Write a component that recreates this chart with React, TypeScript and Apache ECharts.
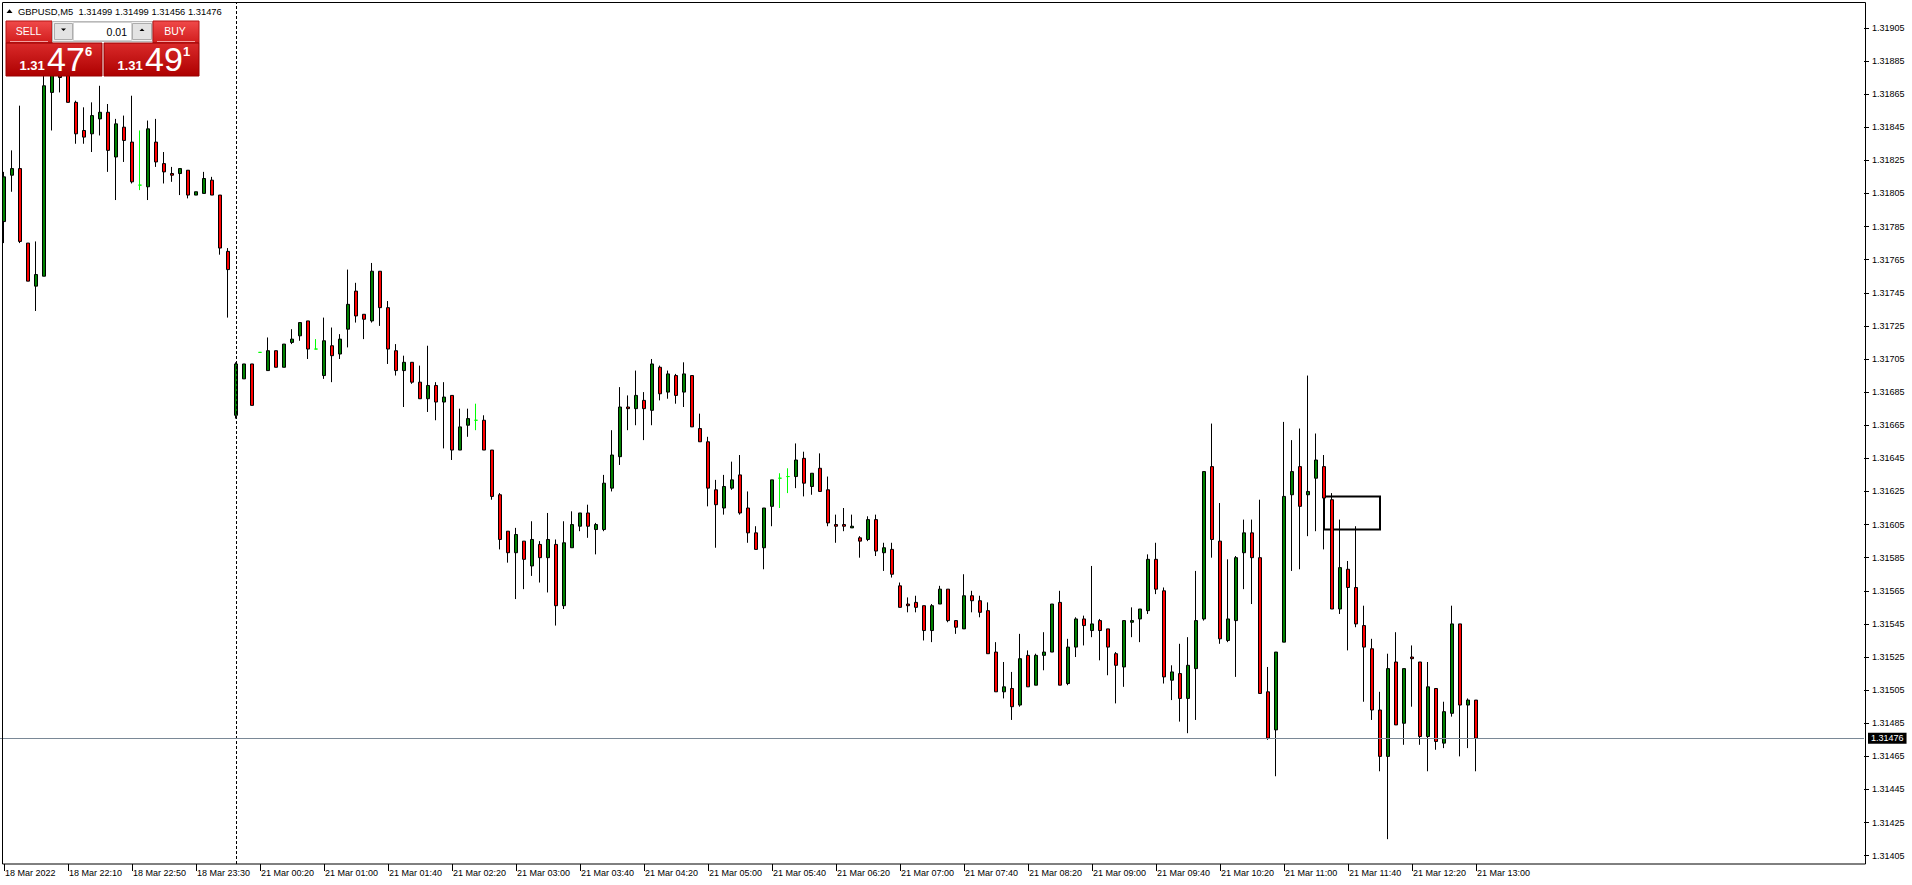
import React, { useEffect, useRef } from 'react';
import * as echarts from 'echarts';

// ---- Data (GBPUSD, M5) ----
const opens = [
  1.31788, 1.31816, 1.31820, 1.31775, 1.31749, 1.31755, 1.31866, 1.31876, 1.31880, 1.31860,
  1.31843, 1.31841, 1.31850, 1.31854, 1.31827, 1.31845, 1.31836, 1.31810, 1.31809, 1.31836,
  1.31823, 1.31817, 1.31817, 1.31819, 1.31804, 1.31805, 1.31813, 1.31804, 1.31770,
  1.31671, 1.31693, 1.31702, 1.31709, 1.31698, 1.31710, 1.31700, 1.31715, 1.31719, 1.31728, 1.31711,
  1.31695, 1.31713, 1.31708, 1.31723, 1.31746, 1.31732, 1.31728, 1.31758, 1.31736, 1.31710,
  1.31698, 1.31703, 1.31691, 1.31681, 1.31689, 1.31679, 1.31683, 1.31650, 1.31665, 1.31668,
  1.31668, 1.31650, 1.31623, 1.31601, 1.31588, 1.31595, 1.31580, 1.31593, 1.31585, 1.31593,
  1.31556, 1.31591, 1.31604, 1.31612, 1.31602, 1.31602, 1.31627, 1.31646, 1.31676, 1.31675,
  1.31680, 1.31674, 1.31700, 1.31685, 1.31695, 1.31685, 1.31695, 1.31663, 1.31655, 1.31626,
  1.31615, 1.31627, 1.31635, 1.31615, 1.31600, 1.31591, 1.31616, 1.31633, 1.31634, 1.31634,
  1.31645, 1.31628, 1.31639, 1.31626, 1.31605, 1.31605, 1.31603, 1.31597, 1.31596, 1.31608,
  1.31588, 1.31590, 1.31568, 1.31557, 1.31558, 1.31556, 1.31541, 1.31557, 1.31566, 1.31547,
  1.31542, 1.31562, 1.31559, 1.31553, 1.31528, 1.31504, 1.31506, 1.31496, 1.31526, 1.31508,
  1.31526, 1.31528, 1.31558, 1.31509, 1.31531, 1.31548, 1.31541, 1.31547, 1.31542, 1.31527,
  1.31519, 1.31546, 1.31548, 1.31553, 1.31584, 1.31565, 1.31511, 1.31515, 1.31500, 1.31518,
  1.31548, 1.31640, 1.31595, 1.31535, 1.31547, 1.31588, 1.31600, 1.31585, 1.31504, 1.31481,
  1.31534, 1.31623, 1.31640, 1.31623, 1.31633, 1.31640, 1.31620, 1.31554, 1.31578, 1.31567,
  1.31544, 1.31530, 1.31493, 1.31465, 1.31522, 1.31485, 1.31525, 1.31522, 1.31477, 1.31506,
  1.31473, 1.31491, 1.31545, 1.31496, 1.31499,
];
const highs = [
  1.31818, 1.31831, 1.31858, 1.31775, 1.31776, 1.31880, 1.31885, 1.31880, 1.31885, 1.31861,
  1.31857, 1.31860, 1.31870, 1.31859, 1.31850, 1.31852, 1.31864, 1.31843, 1.31849, 1.31850,
  1.31830, 1.31821, 1.31820, 1.31819, 1.31806, 1.31818, 1.31815, 1.31804, 1.31772,
  1.31703, 1.31702, 1.31702, 1.31709, 1.31718, 1.31710, 1.31714, 1.31723, 1.31727, 1.31728, 1.31717,
  1.31730, 1.31724, 1.31720, 1.31759, 1.31751, 1.31732, 1.31763, 1.31758, 1.31740, 1.31714,
  1.31707, 1.31703, 1.31701, 1.31713, 1.31691, 1.31691, 1.31683, 1.31675, 1.31675, 1.31678,
  1.31671, 1.31650, 1.31624, 1.31601, 1.31603, 1.31595, 1.31607, 1.31595, 1.31612, 1.31596,
  1.31607, 1.31613, 1.31612, 1.31617, 1.31606, 1.31635, 1.31662, 1.31688, 1.31683, 1.31698,
  1.31685, 1.31705, 1.31701, 1.31698, 1.31696, 1.31703, 1.31695, 1.31672, 1.31658, 1.31632,
  1.31635, 1.31643, 1.31647, 1.31625, 1.31604, 1.31615, 1.31632, 1.31636, 1.31639, 1.31654,
  1.31649, 1.31636, 1.31648, 1.31634, 1.31611, 1.31615, 1.31611, 1.31598, 1.31610, 1.31611,
  1.31594, 1.31594, 1.31570, 1.31561, 1.31562, 1.31556, 1.31557, 1.31568, 1.31566, 1.31547,
  1.31575, 1.31565, 1.31562, 1.31558, 1.31534, 1.31522, 1.31516, 1.31539, 1.31529, 1.31527,
  1.31540, 1.31557, 1.31565, 1.31536, 1.31549, 1.31550, 1.31580, 1.31548, 1.31542, 1.31528,
  1.31547, 1.31555, 1.31554, 1.31587, 1.31594, 1.31567, 1.31520, 1.31533, 1.31537, 1.31577,
  1.31637, 1.31666, 1.31618, 1.31584, 1.31586, 1.31608, 1.31608, 1.31620, 1.31519, 1.31528,
  1.31667, 1.31656, 1.31663, 1.31695, 1.31660, 1.31647, 1.31624, 1.31608, 1.31583, 1.31604,
  1.31556, 1.31536, 1.31504, 1.31527, 1.31540, 1.31518, 1.31532, 1.31522, 1.31522, 1.31506,
  1.31498, 1.31556, 1.31545, 1.31500, 1.31499,
];
const lows = [
  1.31775, 1.31806, 1.31775, 1.31752, 1.31734, 1.31755, 1.31843, 1.31866, 1.31860, 1.31835,
  1.31835, 1.31830, 1.31840, 1.31818, 1.31801, 1.31824, 1.31811, 1.31807, 1.31801, 1.31821,
  1.31811, 1.31812, 1.31804, 1.31802, 1.31804, 1.31805, 1.31804, 1.31768, 1.31730,
  1.31669, 1.31693, 1.31677, 1.31709, 1.31698, 1.31700, 1.31700, 1.31714, 1.31716, 1.31705, 1.31711,
  1.31693, 1.31691, 1.31705, 1.31712, 1.31727, 1.31717, 1.31727, 1.31725, 1.31702, 1.31695,
  1.31676, 1.31690, 1.31681, 1.31673, 1.31668, 1.31651, 1.31644, 1.31650, 1.31658, 1.31662,
  1.31650, 1.31620, 1.31590, 1.31582, 1.31560, 1.31566, 1.31574, 1.31570, 1.31564, 1.31544,
  1.31554, 1.31591, 1.31601, 1.31597, 1.31587, 1.31601, 1.31625, 1.31641, 1.31662, 1.31665,
  1.31656, 1.31665, 1.31680, 1.31681, 1.31678, 1.31676, 1.31664, 1.31655, 1.31616, 1.31591,
  1.31611, 1.31626, 1.31611, 1.31594, 1.31590, 1.31578, 1.31604, 1.31615, 1.31624, 1.31627,
  1.31622, 1.31623, 1.31625, 1.31604, 1.31594, 1.31601, 1.31603, 1.31585, 1.31595, 1.31586,
  1.31577, 1.31573, 1.31555, 1.31552, 1.31552, 1.31535, 1.31534, 1.31557, 1.31546, 1.31539,
  1.31542, 1.31552, 1.31549, 1.31527, 1.31504, 1.31500, 1.31487, 1.31495, 1.31507, 1.31508,
  1.31517, 1.31528, 1.31508, 1.31508, 1.31525, 1.31532, 1.31537, 1.31523, 1.31514, 1.31497,
  1.31507, 1.31537, 1.31534, 1.31551, 1.31563, 1.31509, 1.31499, 1.31486, 1.31479, 1.31487,
  1.31547, 1.31585, 1.31533, 1.31534, 1.31513, 1.31566, 1.31557, 1.31503, 1.31475, 1.31453,
  1.31534, 1.31577, 1.31578, 1.31598, 1.31601, 1.31590, 1.31554, 1.31551, 1.31529, 1.31543,
  1.31498, 1.31487, 1.31456, 1.31415, 1.31484, 1.31472, 1.31495, 1.31472, 1.31456, 1.31469,
  1.31470, 1.31489, 1.31465, 1.31470, 1.31456,
];
const closes = [
  1.31815, 1.31820, 1.31776, 1.31752, 1.31756, 1.31870, 1.31878, 1.31875, 1.31860, 1.31841,
  1.31839, 1.31852, 1.31854, 1.31831, 1.31847, 1.31837, 1.31812, 1.31810, 1.31844, 1.31824,
  1.31818, 1.31816, 1.31820, 1.31804, 1.31806, 1.31814, 1.31804, 1.31772, 1.31759,
  1.31702, 1.31702, 1.31677, 1.31709, 1.31710, 1.31700, 1.31714, 1.31717, 1.31727, 1.31711, 1.31711,
  1.31716, 1.31707, 1.31717, 1.31738, 1.31731, 1.31729, 1.31758, 1.31736, 1.31711, 1.31698,
  1.31703, 1.31691, 1.31681, 1.31689, 1.31679, 1.31682, 1.31650, 1.31664, 1.31669, 1.31668,
  1.31650, 1.31622, 1.31596, 1.31588, 1.31599, 1.31584, 1.31596, 1.31585, 1.31596, 1.31556,
  1.31594, 1.31605, 1.31612, 1.31604, 1.31605, 1.31630, 1.31647, 1.31676, 1.31675, 1.31683,
  1.31675, 1.31702, 1.31684, 1.31696, 1.31683, 1.31696, 1.31664, 1.31655, 1.31627, 1.31617,
  1.31628, 1.31632, 1.31612, 1.31600, 1.31590, 1.31615, 1.31632, 1.31633, 1.31634, 1.31644,
  1.31630, 1.31636, 1.31625, 1.31606, 1.31604, 1.31604, 1.31604, 1.31595, 1.31608, 1.31589,
  1.31591, 1.31575, 1.31555, 1.31556, 1.31555, 1.31541, 1.31556, 1.31566, 1.31547, 1.31543,
  1.31562, 1.31559, 1.31552, 1.31527, 1.31504, 1.31507, 1.31495, 1.31524, 1.31507, 1.31526,
  1.31528, 1.31557, 1.31508, 1.31531, 1.31548, 1.31544, 1.31545, 1.31541, 1.31531, 1.31520,
  1.31547, 1.31547, 1.31554, 1.31584, 1.31566, 1.31513, 1.31516, 1.31500, 1.31520, 1.31547,
  1.31637, 1.31596, 1.31536, 1.31548, 1.31585, 1.31600, 1.31585, 1.31503, 1.31476, 1.31528,
  1.31622, 1.31637, 1.31616, 1.31625, 1.31644, 1.31621, 1.31554, 1.31579, 1.31567, 1.31545,
  1.31531, 1.31493, 1.31465, 1.31518, 1.31484, 1.31518, 1.31524, 1.31477, 1.31507, 1.31474,
  1.31492, 1.31545, 1.31496, 1.31499, 1.31476,
];

const timeLabels = [
  '18 Mar 2022', '18 Mar 22:10', '18 Mar 22:50', '18 Mar 23:30', '21 Mar 00:20', '21 Mar 01:00',
  '21 Mar 01:40', '21 Mar 02:20', '21 Mar 03:00', '21 Mar 03:40', '21 Mar 04:20', '21 Mar 05:00',
  '21 Mar 05:40', '21 Mar 06:20', '21 Mar 07:00', '21 Mar 07:40', '21 Mar 08:20', '21 Mar 09:00',
  '21 Mar 09:40', '21 Mar 10:20', '21 Mar 11:00', '21 Mar 11:40', '21 Mar 12:20', '21 Mar 13:00',
];
const priceTicks = [
  1.31405, 1.31425, 1.31445, 1.31465, 1.31485, 1.31505, 1.31525, 1.31545, 1.31565,
  1.31585, 1.31605, 1.31625, 1.31645, 1.31665, 1.31685, 1.31705, 1.31725, 1.31745,
  1.31765, 1.31785, 1.31805, 1.31825, 1.31845, 1.31865, 1.31885, 1.31905,
];

const symbolName = 'GBPUSD,M5';
const askPrice = 1.31491;
const lotSize = '0.01';
const separatorBar = 29; // first bar of 21 Mar
const rectStartBar = 165;
const rectEndBar = 172;
const rectTop = 1.31622;
const rectBottom = 1.31602;
const totalSlots = 233;

// category names (bar times, M5)
const pad = (n: number) => String(n).padStart(2, '0');
const categories: string[] = [];
for (let i = 0; i < totalSlots; i++) {
  let day: string;
  let mins: number;
  if (i < separatorBar) { day = '18 Mar'; mins = 21 * 60 + 30 + i * 5; }
  else { day = '21 Mar'; mins = 5 + (i - separatorBar) * 5; }
  categories.push(`${day} ${pad(Math.floor(mins / 60) % 24)}:${pad(mins % 60)}`);
}

const FONT = '"Liberation Sans", Arial, sans-serif';

export default function App() {
  const ref = useRef<HTMLDivElement>(null);
  useEffect(() => {
    if (!ref.current) return;
    const chart = echarts.init(ref.current, undefined, { renderer: 'svg' });
    const n = opens.length;
    const data = opens.map((o, i) => [o, closes[i], lows[i], highs[i]]);
    const last = n - 1;
    const bid = closes[last];
    const bidStr = bid.toFixed(5);
    const askStr = askPrice.toFixed(5);
    const header = `${symbolName}  ${opens[last].toFixed(5)} ${highs[last].toFixed(5)} ${lows[last].toFixed(5)} ${bidStr}`;

    const btnGrad = () => new echarts.graphic.LinearGradient(0, 0, 0, 1, [
      { offset: 0, color: '#f04a4a' }, { offset: 1, color: '#d11c1c' },
    ]);
    const boxGrad = () => new echarts.graphic.LinearGradient(0, 0, 0, 1, [
      { offset: 0, color: '#da2a2a' }, { offset: 1, color: '#ad0000' },
    ]);
    const Z = 100;
    const priceBox = (x: number, w: number, price: string) => {
      const big = price.slice(4, 6);
      const small = price.slice(0, 4);
      const sup = price.slice(6, 7);
      return [
        { type: 'rect', z: Z, shape: { x, y: 43, width: w, height: 33 }, style: { fill: boxGrad(), stroke: '#9a0000', lineWidth: 1 } },
        { type: 'text', z: Z + 1, style: { text: small, x: x + 13.5, y: 65.7, fill: '#fff', font: `bold 13px ${FONT}`, verticalAlign: 'middle' } },
        { type: 'text', z: Z + 1, style: { text: big, x: x + 41, y: 59, fill: '#fff', font: `34px ${FONT}`, verticalAlign: 'middle' } },
        { type: 'text', z: Z + 1, style: { text: sup, x: x + 79, y: 51.5, fill: '#fff', font: `bold 13px ${FONT}`, verticalAlign: 'middle' } },
      ];
    };

    const graphic: any[] = [
      // chart frame
      { type: 'rect', z: 50, silent: true, shape: { x: 2.5, y: 2.5, width: 1863, height: 861.5 }, style: { fill: 'none', stroke: '#000', lineWidth: 1 } },
      // header
      { type: 'polygon', z: Z, shape: { points: [[6.5, 13], [9.5, 9.3], [12.5, 13]] }, style: { fill: '#000' } },
      { type: 'text', z: Z, style: { text: header, x: 18, y: 11, fill: '#000', font: `9.4px ${FONT}`, verticalAlign: 'middle' } },
      // SELL button
      { type: 'rect', z: Z, shape: { x: 6, y: 21, width: 46, height: 22 }, style: { fill: btnGrad(), stroke: '#b51515', lineWidth: 1 } },
      { type: 'text', z: Z + 1, style: { text: 'SELL', x: 28.5, y: 31, fill: '#fff', font: `10.5px ${FONT}`, align: 'center', verticalAlign: 'middle' } },
      { type: 'line', z: Z + 1, shape: { x1: 10, y1: 41.5, x2: 48, y2: 41.5 }, style: { stroke: '#f3a0a0', lineWidth: 1 } },
      // lot control
      { type: 'rect', z: Z, shape: { x: 52.5, y: 21.5, width: 100, height: 20 }, style: { fill: '#f0f0f0', stroke: '#b9b9b9', lineWidth: 1 } },
      { type: 'rect', z: Z + 1, shape: { x: 54.5, y: 23.5, width: 18, height: 16 }, style: { fill: '#e3e3e3', stroke: '#adadad', lineWidth: 1 } },
      { type: 'polygon', z: Z + 2, shape: { points: [[61, 28.5], [66, 28.5], [63.5, 31]] }, style: { fill: '#000' } },
      { type: 'rect', z: Z + 1, shape: { x: 73.5, y: 22.5, width: 58, height: 18 }, style: { fill: '#fff', stroke: '#d2d2d2', lineWidth: 1 } },
      { type: 'text', z: Z + 2, style: { text: lotSize, x: 127, y: 31.5, fill: '#000', font: `10.5px ${FONT}`, align: 'right', verticalAlign: 'middle' } },
      { type: 'rect', z: Z + 1, shape: { x: 132.5, y: 23.5, width: 19, height: 16 }, style: { fill: '#e3e3e3', stroke: '#adadad', lineWidth: 1 } },
      { type: 'polygon', z: Z + 2, shape: { points: [[139.5, 31], [144.5, 31], [142, 28.5]] }, style: { fill: '#000' } },
      // BUY button
      { type: 'rect', z: Z, shape: { x: 153, y: 21, width: 46, height: 22 }, style: { fill: btnGrad(), stroke: '#b51515', lineWidth: 1 } },
      { type: 'text', z: Z + 1, style: { text: 'BUY', x: 175, y: 31, fill: '#fff', font: `10.5px ${FONT}`, align: 'center', verticalAlign: 'middle' } },
      { type: 'line', z: Z + 1, shape: { x1: 157, y1: 41.5, x2: 195, y2: 41.5 }, style: { stroke: '#f3a0a0', lineWidth: 1 } },
      ...priceBox(6, 96, bidStr),
      ...priceBox(104, 95, askStr),
    ];

    const showIdx = (i: number) => i % 8 === 0 && i < n;

    chart.setOption({
      animation: false,
      backgroundColor: '#ffffff',
      textStyle: { fontFamily: FONT },
      grid: { left: 0, top: 3, width: 1864, height: 861, containLabel: false },
      xAxis: {
        type: 'category',
        data: categories,
        boundaryGap: true,
        axisLine: { show: false },
        axisTick: { show: true, alignWithLabel: true, interval: (i: number) => showIdx(i), length: 7, lineStyle: { color: '#000', width: 1 } },
        axisLabel: {
          interval: (i: number) => showIdx(i),
          formatter: (_v: string, i: number) => timeLabels[Math.floor(i / 8)] ?? '',
          align: 'left', margin: 4, color: '#000', fontSize: 9, fontFamily: FONT, padding: [0, 0, 0, 1],
        },
        splitLine: { show: false },
      },
      yAxis: {
        type: 'value',
        position: 'right',
        min: 1.314,
        max: 1.3192,
        axisLine: { show: false },
        axisTick: { show: true, customValues: priceTicks, length: 5, lineStyle: { color: '#000', width: 1 } },
        axisLabel: { customValues: priceTicks, formatter: (v: number) => v.toFixed(5), margin: 8, color: '#000', fontSize: 9, fontFamily: FONT },
        splitLine: { show: false },
      },
      series: [
        {
          type: 'candlestick',
          data,
          barWidth: 4,
          itemStyle: {
            color: '#008000',
            color0: '#ff0000',
            borderColor: '#000000',
            borderColor0: '#000000',
            borderColorDoji: '#00ff00',
            borderWidth: 1,
          },
          markLine: {
            silent: true,
            symbol: ['none', 'none'],
            precision: 5,
            animation: false,
            data: [
              { xAxis: categories[separatorBar], lineStyle: { color: '#000', type: [3, 2], width: 1 }, label: { show: false } },
              {
                yAxis: bid,
                lineStyle: { color: '#7a8896', type: 'solid', width: 1 },
                label: {
                  show: true, position: 'end', formatter: bidStr, color: '#fff', backgroundColor: '#000',
                  padding: [1, 3, 1, 3], fontSize: 9, fontFamily: FONT, distance: 4,
                },
              },
            ],
          },
          markArea: {
            silent: true,
            itemStyle: { color: 'rgba(0,0,0,0)', borderColor: '#000', borderWidth: 2 },
            data: [[
              { xAxis: categories[rectStartBar], yAxis: rectTop },
              { xAxis: categories[rectEndBar], yAxis: rectBottom },
            ]],
          },
        },
      ],
      graphic,
    });
    return () => chart.dispose();
  }, []);
  return <div ref={ref} style={{ position: 'fixed', left: 0, top: 0, width: 1912, height: 885, background: '#fff' }} />;
}
